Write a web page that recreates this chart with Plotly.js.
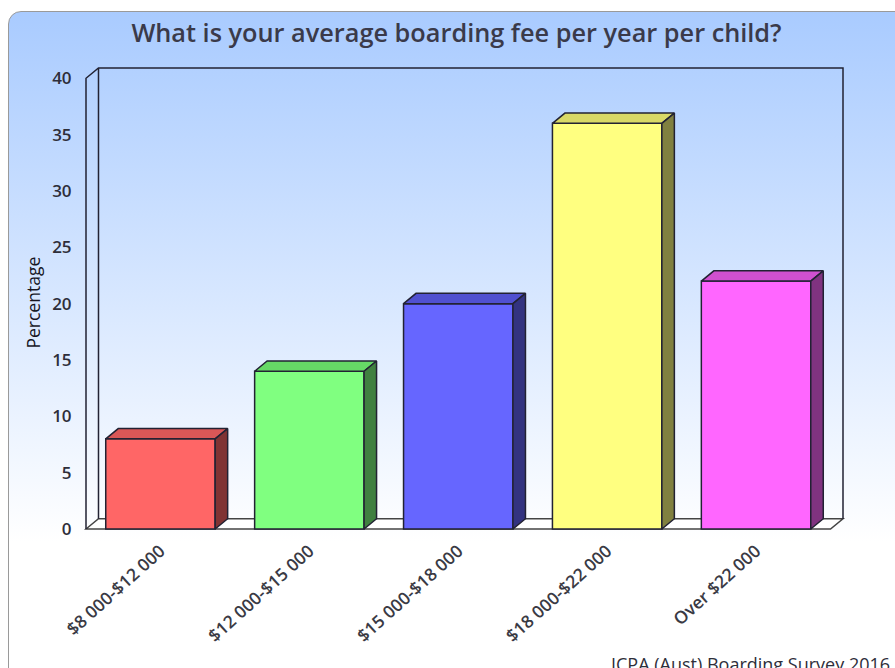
<!DOCTYPE html>
<html>
<head>
<meta charset="utf-8">
<script src="https://cdn.plot.ly/plotly-3.0.1.min.js"></script>
<style>
html,body{margin:0;padding:0;width:895px;height:668px;overflow:hidden;background:#fff}
#card{position:absolute;left:8px;top:11px;width:920px;height:680px;box-sizing:border-box;border:1.5px solid #9a9a9a;border-radius:13px;
background:linear-gradient(to bottom,#a9cbff 0px,#ffffff 530px)}
#chart{position:absolute;left:0;top:0;width:895px;height:668px}
</style>
</head>
<body>
<div id="card"></div>
<div id="chart"></div>
<script>
var categories = ["$8 000-$12 000","$12 000-$15 000","$15 000-$18 000","$18 000-$22 000","Over $22 000"];
var values = [8,14,20,36,22];
var frontColors = ["#ff6666","#80ff80","#6666ff","#ffff80","#ff66ff"];
var topColors = ["#d95757","#66d966","#5050d0","#d9d966","#d050d0"];
var sideColors = ["#803333","#408040","#333380","#808040","#803380"];
var yTicks = [0,5,10,15,20,25,30,35,40];
var titleText = "What is your average boarding fee per year per child?";
var yTitleText = "Percentage";
var sourceText = "ICPA (Aust) Boarding Survey 2016";

var W = 895, H = 668;
var pxX = 149, pxY = 11.28, pad = 3;        // pixels per data unit, frame padding
var depthX = 12.5/pxX, depthY = 10.3/pxY;   // oblique depth in data units
var barW = 109.5/pxX, half = barW/2;
var xLo = -0.5, xHi = 4.5, yHi = 40;
var left = 85.5 - pad, right = 85.5 + (xHi-xLo)*pxX + 12.5 + pad, top_ = 67.7 - pad, bottom = 529.3 + pad;
var ink = "#222233";

var positions = categories.map(function(_, i){ return i; });

var traces = [{
  type:"bar", x:positions, y:values, width:barW, showlegend:false, hoverinfo:"y",
  marker:{color:frontColors, line:{color:ink, width:1.5}}
}];
positions.forEach(function(p,i){
  var v = values[i];
  traces.push({type:"scatter", mode:"lines", fill:"toself", fillcolor:topColors[i], showlegend:false, hoverinfo:"skip", cliponaxis:false,
    line:{color:ink,width:1.5},
    x:[p-half,p-half+depthX,p+half+depthX,p+half,p-half],
    y:[v,v+depthY,v+depthY,v,v]});
  traces.push({type:"scatter", mode:"lines", fill:"toself", fillcolor:sideColors[i], showlegend:false, hoverinfo:"skip", cliponaxis:false,
    line:{color:ink,width:1.5},
    x:[p+half,p+half+depthX,p+half+depthX,p+half,p+half],
    y:[v,v+depthY,depthY,0,v]});
});

function path(pts){ return pts.map(function(q,i){ return (i?"L":"M")+q[0]+" "+q[1]; }).join(" "); }
var shapes = [
  {type:"path", layer:"below", xref:"x", yref:"y", fillcolor:"#ffffff", line:{color:"#444444",width:1.5},
   path:path([[xLo,0],[xLo+depthX,depthY],[xHi+depthX,depthY],[xHi,0]])+" Z"},
  {type:"path", layer:"below", xref:"x", yref:"y", line:{color:ink,width:1.5},
   path:path([[xLo,0],[xLo,yHi],[xLo+depthX,yHi+depthY],[xHi+depthX,yHi+depthY],[xHi+depthX,depthY]])},
  {type:"path", layer:"below", xref:"x", yref:"y", line:{color:ink,width:1.5},
   path:path([[xLo+depthX,yHi+depthY],[xLo+depthX,depthY]])}
];

var plotW = right-left, plotH = bottom-top_;
var layout = {
  width:W, height:H, autosize:false,
  margin:{l:left, r:W-right, t:top_, b:H-bottom, pad:0},
  paper_bgcolor:"rgba(0,0,0,0)", plot_bgcolor:"rgba(0,0,0,0)",
  font:{family:"'Open Sans', sans-serif", color:"#333344"},
  title:{text:titleText, font:{family:"'Open Sans', sans-serif", size:25.3, weight:600, color:"#3a3a4a"},
         x:456.5/W, xanchor:"center", y:1-33/H, yanchor:"middle"},
  showlegend:false, bargap:0, dragmode:false,
  xaxis:{type:"linear", range:[xLo-pad/pxX, xHi+depthX+pad/pxX], tickmode:"array", tickvals:positions, ticktext:categories,
         tickangle:-42, showgrid:false, zeroline:false, showline:false, ticks:"outside", ticklen:1, tickcolor:"rgba(0,0,0,0)",
         tickfont:{size:17.5, weight:600, color:"#3a3a44"}, fixedrange:true},
  yaxis:{range:[-pad/pxY, yHi+depthY+pad/pxY], tickmode:"array", tickvals:yTicks, showgrid:false, zeroline:false, showline:false,
         ticks:"outside", ticklen:7, tickcolor:"rgba(0,0,0,0)", tickfont:{size:17, weight:600, color:"#2e2e3a"}, fixedrange:true},
  shapes:shapes,
  annotations:[
    {text:yTitleText, xref:"paper", yref:"paper", x:(32-left)/plotW, y:(bottom-303)/plotH, xanchor:"center", yanchor:"middle",
     textangle:-90, showarrow:false, font:{size:17.5, weight:500, color:"#16161f"}},
    {text:sourceText, xref:"paper", yref:"paper", x:(892-left)/plotW, y:(bottom-664)/plotH, xanchor:"right", yanchor:"middle",
     showarrow:false, font:{size:18, color:"#2e2e3a"}}
  ]
};
Plotly.newPlot("chart", traces, layout, {displayModeBar:false, staticPlot:true, responsive:false});
</script>
</body>
</html>
